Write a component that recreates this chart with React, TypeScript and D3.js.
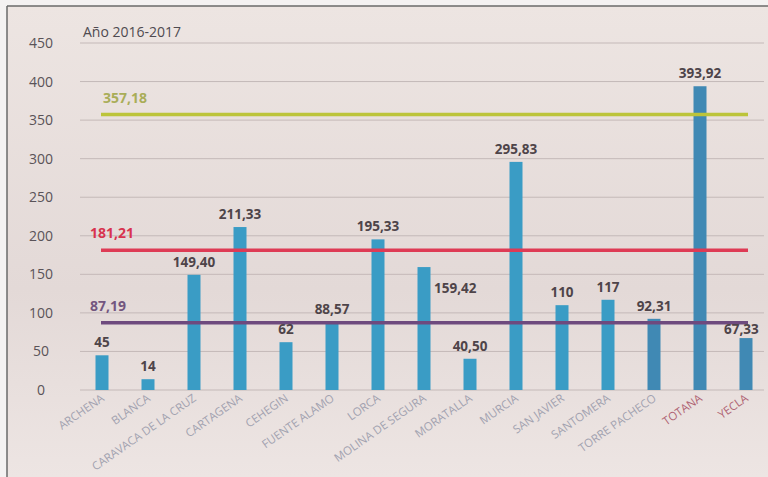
import React, { useRef, useEffect } from 'react';
import * as d3 from 'd3';

const categories = [
  'ARCHENA', 'BLANCA', 'CARAVACA DE LA CRUZ', 'CARTAGENA', 'CEHEGIN', 'FUENTE ALAMO', 'LORCA',
  'MOLINA DE SEGURA', 'MORATALLA', 'MURCIA', 'SAN JAVIER', 'SANTOMERA', 'TORRE PACHECO', 'TOTANA', 'YECLA',
];
const values = [45, 14, 149.4, 211.33, 62, 88.57, 195.33, 159.42, 40.5, 295.83, 110, 117, 92.31, 393.92, 67.33];
const valueLabels = ['45', '14', '149,40', '211,33', '62', '88,57', '195,33', '159,42', '40,50', '295,83', '110', '117', '92,31', '393,92', '67,33'];
const yTicks = [0, 50, 100, 150, 200, 250, 300, 350, 400, 450];
const refValues = [357.18, 181.21, 87.19];
const refLabels = ['357,18', '181,21', '87,19'];
const refColors = ['#bcc43a', '#de3b55', '#6e4a7e'];
const refTextColors = ['#a9ad58', '#d8334e', '#73567f'];

const W = 768;
const H = 477;

const App: React.FC = () => {
  const ref = useRef<SVGSVGElement | null>(null);

  useEffect(() => {
    document.body.style.margin = '0';
    const svg = d3.select(ref.current);
    svg.selectAll('*').remove();

    const defs = svg.append('defs');
    const grad = defs.append('linearGradient').attr('id', 'bg').attr('x1', 0).attr('y1', 0).attr('x2', 0).attr('y2', 1);
    grad.append('stop').attr('offset', '0%').attr('stop-color', '#ede5e2');
    grad.append('stop').attr('offset', '60%').attr('stop-color', '#e3d9d7');
    grad.append('stop').attr('offset', '100%').attr('stop-color', '#ede5e3');

    svg.append('rect').attr('width', W).attr('height', H).attr('fill', '#f4f2f2');
    svg.append('rect').attr('x', 7).attr('y', 6).attr('width', W - 7).attr('height', H - 6).attr('fill', 'url(#bg)');
    svg.append('line').attr('x1', 7).attr('x2', W).attr('y1', 6).attr('y2', 6).attr('stroke', '#6a6a6a').attr('stroke-width', 1.5);
    svg.append('line').attr('x1', 7).attr('x2', 7).attr('y1', 6).attr('y2', H).attr('stroke', '#6a6a6a').attr('stroke-width', 1.5);

    const y = d3.scaleLinear().domain([0, 450]).range([390, 43]);
    const x = d3.scalePoint<string>().domain(categories).range([102, 746]);
    const barW = 13;
    const font = "'Open Sans', 'DejaVu Sans', sans-serif";

    // gridlines
    svg.append('g').selectAll('line').data(yTicks).join('line')
      .attr('x1', 80).attr('x2', 764)
      .attr('y1', d => y(d)).attr('y2', d => y(d))
      .attr('stroke', '#c4b9b8').attr('stroke-width', 1);

    // y tick labels
    svg.append('g').selectAll('text').data(yTicks).join('text')
      .attr('x', 41).attr('y', d => y(d) + 5)
      .attr('text-anchor', 'middle')
      .attr('font-family', font).attr('font-size', 14)
      .attr('fill', '#5a5358')
      .text(d => d);

    // title
    svg.append('text').attr('x', 83).attr('y', 37)
      .attr('font-family', font).attr('font-size', 14).attr('fill', '#4f4a50')
      .text('Año 2016-2017');

    // bars
    svg.append('g').selectAll('rect').data(values).join('rect')
      .attr('x', (d, i) => (x(categories[i]) as number) - barW / 2)
      .attr('y', d => y(d))
      .attr('width', barW)
      .attr('height', d => y(0) - y(d))
      .attr('fill', (d, i) => (i >= 12 ? '#4089b4' : '#3a9cc5'));

    // reference lines
    const refs = svg.append('g');
    refValues.forEach((v, i) => {
      refs.append('line')
        .attr('x1', 101).attr('x2', 748)
        .attr('y1', y(v)).attr('y2', y(v))
        .attr('stroke', refColors[i]).attr('stroke-width', 3.5);
      refs.append('text')
        .attr('x', i === 0 ? 103 : 90).attr('y', y(v) - 12)
        .attr('font-family', font).attr('font-size', 14).attr('font-weight', 'bold')
        .attr('fill', refTextColors[i])
        .text(refLabels[i]);
    });

    // value labels
    svg.append('g').selectAll('text').data(values).join('text')
      .attr('x', (d, i) => {
        const cx = x(categories[i]) as number;
        if (categories[i] === 'MOLINA DE SEGURA') return cx + 10;
        if (categories[i] === 'YECLA') return cx - 22;
        return cx;
      })
      .attr('y', (d, i) => (categories[i] === 'MOLINA DE SEGURA' ? y(d) + 26 : categories[i] === 'YECLA' ? y(d) - 4 : y(d) - 8))
      .attr('text-anchor', (d, i) => (categories[i] === 'MOLINA DE SEGURA' || categories[i] === 'YECLA' ? 'start' : 'middle'))
      .attr('font-family', font).attr('font-size', 13.5).attr('font-weight', 'bold')
      .attr('fill', '#4e4449')
      .text((d, i) => valueLabels[i]);

    // category labels
    svg.append('g').selectAll('text').data(categories).join('text')
      .attr('transform', d => `translate(${(x(d) as number) + 3},${400}) rotate(-35)`)
      .attr('text-anchor', 'end')
      .attr('font-family', font).attr('font-size', 11.5)
      .attr('fill', d => (d === 'TOTANA' || d === 'YECLA' ? '#b06474' : '#a2a2b0'))
      .text(d => d);
  }, []);

  return <svg ref={ref} width={W} height={H} style={{ display: 'block' }} />;
};

export default App;
